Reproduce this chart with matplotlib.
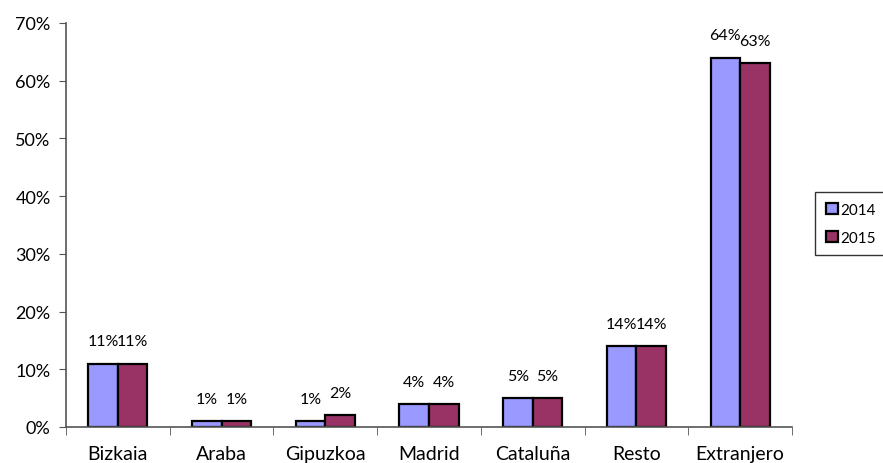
import numpy as np
import matplotlib.pyplot as plt
from matplotlib.ticker import PercentFormatter

plt.rcParams['font.family'] = ['Lato', 'DejaVu Sans']

categorias = ['Bizkaia', 'Araba', 'Gipuzkoa', 'Madrid', 'Cataluña', 'Resto', 'Extranjero']
v2014 = [11, 1, 1, 4, 5, 14, 64]
v2015 = [11, 1, 2, 4, 5, 14, 63]
series = ['2014', '2015']
colores = ['#9999FF', '#993366']

fig = plt.figure(figsize=(8.83, 4.64), dpi=100)
ax = fig.add_axes([66 / 883, 1 - 428 / 464, (792 - 66) / 883, (428 - 24) / 464])

x = np.arange(len(categorias))
w = 0.285
for i, (vals, col, lab) in enumerate(zip([v2014, v2015], colores, series)):
    pos = x + (i - 0.5) * w
    ax.bar(pos, vals, w, color=col, edgecolor='black', linewidth=1.6, label=lab)
    for p, v in zip(pos, vals):
        ax.annotate(f'{v}%', (p, v), xytext=(0, 11), textcoords='offset points',
                    ha='center', va='bottom', fontsize=11.5)

ax.set_xlim(-0.5, len(categorias) - 0.5)
ax.set_ylim(0, 70)
ax.set_yticks(range(0, 71, 10))
ax.yaxis.set_major_formatter(PercentFormatter(decimals=0))
ax.set_xticks(x)
ax.set_xticklabels(categorias, fontsize=14)
ax.set_xticks(np.arange(-0.5, len(categorias), 1), minor=True)
ax.tick_params(axis='x', which='major', length=0, pad=13)
ax.tick_params(axis='x', which='minor', length=6, color='#555555')
ax.tick_params(axis='y', labelsize=13, length=5, color='#555555', pad=6)
for s in ['top', 'right']:
    ax.spines[s].set_visible(False)
for s in ['left', 'bottom']:
    ax.spines[s].set_color('#555555')
    ax.spines[s].set_linewidth(1.2)

leg = ax.legend(loc='upper left', bbox_to_anchor=(815 / 883, 1 - 193 / 464),
                bbox_transform=fig.transFigure, fontsize=11, frameon=True,
                fancybox=False, edgecolor='black', handlelength=0.8, handleheight=0.8,
                handletextpad=0.15, labelspacing=0.9, borderpad=0.7, borderaxespad=0)
leg.get_frame().set_linewidth(1.0)

fig.savefig('out.png', dpi=100)
